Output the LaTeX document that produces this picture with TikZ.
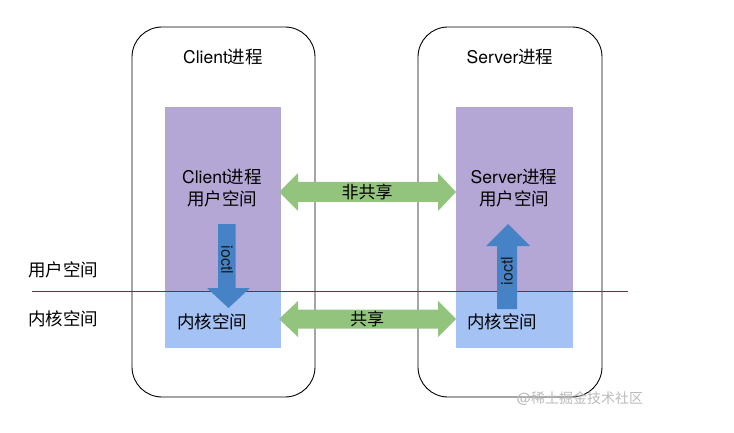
\documentclass[tikz,border=0pt]{standalone}
\usepackage{fontspec}
\setmainfont{TeX Gyre Heros}
\newfontfamily\cjk{Noto Sans CJK SC}
\definecolor{purp}{HTML}{B4A7D6}
\definecolor{lblue}{HTML}{A4C2F4}
\definecolor{agreen}{HTML}{93C47D}
\definecolor{ablue}{HTML}{4683C6}
\definecolor{sepline}{HTML}{5A3A48}
\definecolor{wmark}{HTML}{BBBBBB}
\begin{document}
\begin{tikzpicture}[x=1pt,y=-1pt,
  procbox/.style={draw=black,line width=0.9pt,rounded corners=30pt,minimum width=183pt,minimum height=370pt,inner sep=0pt},
  userbox/.style={fill=purp,minimum width=116pt,minimum height=184pt,inner sep=0pt},
  kernbox/.style={fill=lblue,minimum width=116pt,minimum height=57pt,inner sep=0pt},
  lbl/.style={font=\fontsize{17.5}{21}\selectfont,inner sep=0pt,align=center},
  albl/.style={font=\fontsize{17}{20}\selectfont,inner sep=0pt},
  ilbl/.style={font=\fontsize{16}{18}\selectfont,inner sep=0pt}
]
\useasboundingbox (0,0) rectangle (734,433);
\fill[white] (0,0) rectangle (734,433);

% process boxes
\node[procbox] (client) at (223.5,212) {};
\node[procbox,minimum width=184pt] (server) at (510,212) {};

% inner areas
\node[userbox] (cuser) at (223,199) {};
\node[kernbox] (ckern) at (223,319.5) {};
\node[userbox,minimum width=117pt] (suser) at (514.5,199) {};
\node[kernbox,minimum width=117pt] (skern) at (514.5,319.5) {};

% separator line
\coordinate (la) at (32,291);
\coordinate (lb) at (628,291);
\draw[sepline,line width=0.8pt] (la) -- (lb);

% titles
\node[lbl] (ctitle) at (223,57) {Client{\cjk 进程}};
\node[lbl] (stitle) at (510,57) {Server{\cjk 进程}};

% inner texts
\node[lbl] (cutext) at (222,188) {Client{\cjk 进程}\\[1pt]{\cjk 用户空间}};
\node[lbl] (sutext) at (514,188) {Server{\cjk 进程}\\[1pt]{\cjk 用户空间}};
\node[lbl] (cktext) at (212,322) {\cjk 内核空间};
\node[lbl] (sktext) at (502,322) {\cjk 内核空间};

% side labels
\node[lbl] (userlbl) at (63,270) {\cjk 用户空间};
\node[lbl] (kernlbl) at (63,319) {\cjk 内核空间};

% green double arrows
\fill[agreen] (279,192) -- (298,173) -- (298,182) -- (438,182) -- (438,173) -- (456,192)
  -- (438,211) -- (438,202) -- (298,202) -- (298,211) -- cycle;
\node[albl] (nonshared) at (367,192) {\cjk 非共享};
\fill[agreen] (279,319) -- (298,301) -- (298,309.5) -- (438,309.5) -- (438,301) -- (456,319)
  -- (438,337) -- (438,328.5) -- (298,328.5) -- (298,337) -- cycle;
\node[albl] (shared) at (367,319) {\cjk 共享};

% blue ioctl arrows
\fill[ablue] (218,224) -- (235.5,224) -- (235.5,288) -- (250,288) -- (228.5,308) -- (207,288) -- (218,288) -- cycle;
\node[ilbl,rotate=-90,white!10!black] (cioctl) at (227,260) {ioctl};
\fill[ablue] (497,309) -- (517,309) -- (517,246) -- (530,246) -- (508,224) -- (486,246) -- (497,246) -- cycle;
\node[ilbl,rotate=90,white!10!black] (sioctl) at (507,271) {ioctl};

% watermark
\node[font=\fontsize{14}{16}\selectfont,text=wmark,inner sep=0pt] (wm) at (580,399) {@{\cjk 稀土掘金技术社区}};
\end{tikzpicture}
\end{document}
